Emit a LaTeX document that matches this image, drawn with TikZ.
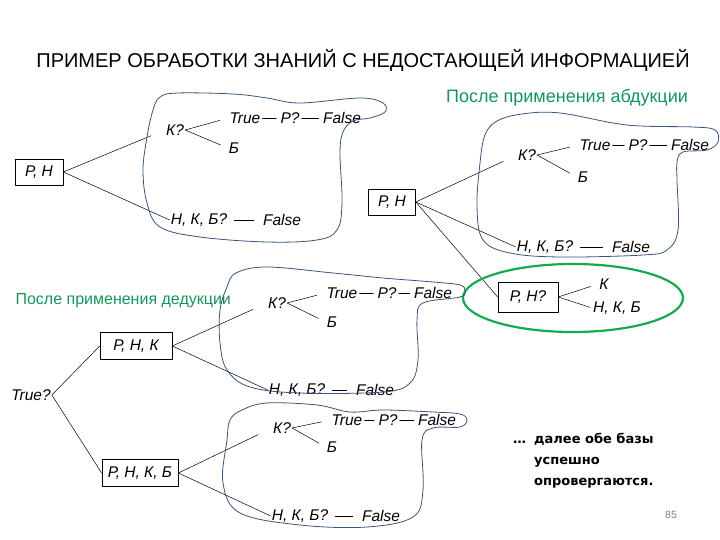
\documentclass[tikz,border=0pt]{standalone}
\usepackage{fontspec}
\setmainfont{Liberation Sans}
\newfontfamily\notefont{DejaVu Sans}
\definecolor{cloudblue}{RGB}{55,85,125}
\definecolor{headgreen}{RGB}{20,150,90}
\definecolor{ringgreen}{RGB}{20,170,80}

\begin{document}
\begin{tikzpicture}[x=1pt, y=-1pt, line cap=round, line join=round,
  lbl/.style={font=\fontsize{15.5}{18}\selectfont\itshape, inner sep=1pt},
  kbox/.style={lbl, draw, line width=0.6pt, inner xsep=6pt, minimum height=26},
  link/.style={line width=0.5pt},
  cloud/.style={draw=cloudblue, line width=0.8pt},
  note/.style={font=\fontsize{18}{20}\selectfont, text=headgreen}]
  \useasboundingbox (0,0) rectangle (720,540);

  % Title
  \node (title) at (363,60) {\fontsize{20}{22}\selectfont ПРИМЕР ОБРАБОТКИ ЗНАНИЙ С НЕДОСТАЮЩЕЙ ИНФОРМАЦИЕЙ};

  % Initial base
  \node[kbox, minimum width=48] (a) at (39,172) {Р, Н};
  \node[lbl] (ak) at (175,130) {К?};
  \node[lbl] (at) at (245,118) {True};
  \node[lbl] (ap) at (290,118) {Р?};
  \node[lbl] (af) at (342,118) {False};
  \node[lbl] (ab) at (234,148) {Б};
  \node[lbl] (an) at (199,220) {Н, К, Б?};
  \node[lbl] (anf) at (282,220) {False};
  \draw[link, shorten >=15pt] (a.east) -- (ak.west);
  \draw[link] (a.east) -- (an.west);
  \draw[link, shorten >=9pt] (ak.east) -- (at.west);
  \draw[link, shorten >=8pt] (ak.east) -- (ab.west);
  \draw[link, shorten <=1pt, shorten >=3pt] (at.east) -- (ap.west);
  \draw[link, shorten <=1pt, shorten >=3pt] (ap.east) -- (af.west);
  \draw[link, shorten <=6pt, shorten >=8pt] (an.east) -- (anf.west);
  \draw[cloud] plot[smooth cycle, tension=0.6] coordinates {(153,110) (160,97) (178,93)
    (233,94) (267,98) (300,103) (360,98) (383,103) (385,112) (370,118) (353,121)
    (343,132) (340,153) (342,203) (337,230) (317,240) (267,242) (200,237) (160,227)
    (147,203) (143,170) (147,137)};

  % After abduction
  \node[note] (abd) at (567,98) {После применения абдукции};
  \node[kbox, minimum width=47] (b) at (392,202) {Р, Н};
  \node[lbl] (bk) at (527,155) {К?};
  \node[lbl] (bt) at (595,145) {True};
  \node[lbl] (bp) at (638,145) {Р?};
  \node[lbl] (bf) at (690,145) {False};
  \node[lbl] (bb) at (583,177) {Б};
  \node[lbl] (bn) at (545,247) {Н, К, Б?};
  \node[lbl] (bnf) at (631,247) {False};
  \draw[link, shorten >=15pt] (b.east) -- (bk.west);
  \draw[link] (b.east) -- (bn.west);
  \draw[link, shorten >=9pt] (bk.east) -- (bt.west);
  \draw[link, shorten >=8pt] (bk.east) -- (bb.west);
  \draw[link, shorten <=1pt, shorten >=3pt] (bt.east) -- (bp.west);
  \draw[link, shorten <=1pt, shorten >=3pt] (bp.east) -- (bf.west);
  \draw[link, shorten <=6pt, shorten >=8pt] (bn.east) -- (bnf.west);
  \draw[cloud] plot[smooth cycle, tension=0.6] coordinates {(485,135) (497,121)
    (522,114) (560,113) (627,125) (693,127) (715,130) (718,142) (707,150) (683,152)
    (677,162) (677,180) (678,230) (667,250) (643,255) (560,257) (510,253) (483,240)
    (477,207) (480,163)};

  % Hypothesis
  \node[kbox, minimum width=60, minimum height=30] (c) at (528,297) {Р, Н?};
  \node[lbl] (ck) at (604,284) {К};
  \node[lbl] (cn) at (617,308) {Н, К, Б};
  \draw[link] (b.east) -- (c.west);
  \draw[link, shorten >=8pt] (c.east) -- (ck.west);
  \draw[link, shorten >=2pt] (c.east) -- (cn.west);
  \draw[ringgreen, line width=2.2pt] (573,298) ellipse (110 and 34);

  % After deduction
  \node[note, font=\fontsize{16}{18}\selectfont, anchor=west] (ded) at (12,301) {После применения дедукции};
  \node[lbl] (tq) at (31,395) {True?};
  \node[kbox, minimum width=72, minimum height=27] (d) at (136,346) {Р, Н, К};
  \node[kbox, minimum width=72, minimum height=27] (e) at (140,473) {Р, Н, К, Б};
  \draw[link] (tq.east) -- (d.west);
  \draw[link] (tq.east) -- (e.west);

  \node[lbl] (dk) at (277,303) {К?};
  \node[lbl] (dt) at (342,293) {True};
  \node[lbl] (dp) at (387,293) {Р?};
  \node[lbl] (df) at (433,293) {False};
  \node[lbl] (db) at (332,322) {Б};
  \node[lbl] (dn) at (297,390) {Н, К, Б?};
  \node[lbl] (dnf) at (375,390) {False};
  \draw[link, shorten >=15pt] (d.east) -- (dk.west);
  \draw[link] (d.east) -- (dn.west);
  \draw[link, shorten >=9pt] (dk.east) -- (dt.west);
  \draw[link, shorten >=8pt] (dk.east) -- (db.west);
  \draw[link, shorten <=1pt, shorten >=3pt] (dt.east) -- (dp.west);
  \draw[link, shorten <=1pt, shorten >=3pt] (dp.east) -- (df.west);
  \draw[link, shorten <=6pt, shorten >=8pt] (dn.east) -- (dnf.west);
  \draw[cloud] plot[smooth cycle, tension=0.6] coordinates {(227,287) (236,273)
    (267,267) (333,273) (383,278) (433,282) (460,285) (465,291) (460,297) (423,303)
    (417,320) (418,360) (410,383) (383,392) (300,393) (250,387) (227,370) (220,343)
    (220,310)};

  \node[lbl] (ek) at (282,428) {К?};
  \node[lbl] (et) at (347,420) {True};
  \node[lbl] (ep) at (388,420) {Р?};
  \node[lbl] (ef) at (437,420) {False};
  \node[lbl] (eb) at (332,447) {Б};
  \node[lbl] (en) at (300,516) {Н, К, Б?};
  \node[lbl] (enf) at (381,516) {False};
  \draw[link, shorten >=15pt] (e.east) -- (ek.west);
  \draw[link] (e.east) -- (en.west);
  \draw[link, shorten >=9pt] (ek.east) -- (et.west);
  \draw[link, shorten >=8pt] (ek.east) -- (eb.west);
  \draw[link, shorten <=1pt, shorten >=3pt] (et.east) -- (ep.west);
  \draw[link, shorten <=1pt, shorten >=3pt] (ep.east) -- (ef.west);
  \draw[link, shorten <=6pt, shorten >=8pt] (en.east) -- (enf.west);
  \draw[cloud] plot[smooth cycle, tension=0.6] coordinates {(230,420) (242,410)
    (267,403) (317,405) (350,412) (383,410) (433,412) (460,414) (467,420) (460,427)
    (433,428) (422,440) (423,490) (413,517) (367,527) (300,525) (240,513) (223,483)
    (227,440)};

  % Conclusion
  \node[anchor=north west, inner sep=0pt, font=\notefont\bfseries\fontsize{13}{21}\selectfont]
    (more) at (513,429) {\begin{tabular}{@{}l@{\hspace{8pt}}l@{}}
    \dots & далее обе базы\\ & успешно\\ & опровергаются.\end{tabular}};
  \node[text=gray, font=\fontsize{10.5}{12}\selectfont] (page) at (671,515) {85};
\end{tikzpicture}
\end{document}
